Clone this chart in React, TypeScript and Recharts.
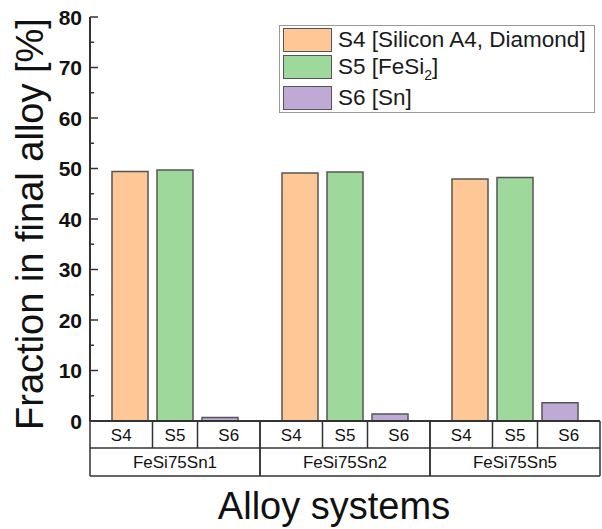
import React from 'react';
import { BarChart, Bar, XAxis, YAxis, Legend } from 'recharts';

const SYSTEMS = ['FeSi75Sn1', 'FeSi75Sn2', 'FeSi75Sn5'];
const PHASES = ['S4', 'S5', 'S6'];
const PHASE_NAMES = ['S4 [Silicon A4, Diamond]', 'S5 [FeSi₂]', 'S6 [Sn]'];
const PHASE_COLORS = ['#fdc896', '#9fd89b', '#bfaad6'];
const S4_VALUES = [49.4, 49.1, 47.9];
const S5_VALUES = [49.7, 49.3, 48.2];
const S6_VALUES = [0.7, 1.4, 3.6];
const Y_TICKS = [0, 5, 10, 15, 20, 25, 30, 35, 40, 45, 50, 55, 60, 65, 70, 75, 80];

const data = SYSTEMS.map((system, i) => ({
  system,
  S4: S4_VALUES[i],
  S5: S5_VALUES[i],
  S6: S6_VALUES[i],
}));

const FONT = '"Liberation Sans", Arial, sans-serif';
const AXIS = '#333';
const PLOT_LEFT = 90;
const PLOT_RIGHT = 600;
const BAND = (PLOT_RIGHT - PLOT_LEFT) / SYSTEMS.length;
const BAR = 36;
const GAP = 9;
const STEP = BAR + GAP;

function LeftTick({ x, y, payload }: any) {
  const major = payload.value % 10 === 0;
  return (
    <g>
      <line x1={x} x2={x + (major ? 8 : 4)} y1={y} y2={y} stroke={AXIS} strokeWidth={1.5} />
      {major && (
        <text x={x - 8} y={y} textAnchor="end" dominantBaseline="central"
          fontFamily={FONT} fontWeight="bold" fontSize={21} fill="#111">
          {payload.value}
        </text>
      )}
    </g>
  );
}

function RightTick({ x, y, payload }: any) {
  const major = payload.value % 10 === 0;
  return <line x1={x} x2={x - (major ? 8 : 4)} y1={y} y2={y} stroke={AXIS} strokeWidth={1.5} />;
}

function TopTick({ x, y }: any) {
  return (
    <g>
      {[1, 2, 3, 4, 5, 6].map((k) => {
        const tx = x - BAND / 2 + (k * BAND) / 6;
        return <line key={k} x1={tx} x2={tx} y1={y} y2={y + (k % 2 ? 7 : 4)} stroke={AXIS} strokeWidth={1.5} />;
      })}
    </g>
  );
}

function TableTick({ x, y, payload }: any) {
  const half = BAND / 2;
  const mid = STEP / 2;
  const sub = (half + mid) / 2;
  const ln = { stroke: AXIS, strokeWidth: 1.5 };
  return (
    <g>
      <line x1={x - half} x2={x + half} y1={y + 27} y2={y + 27} {...ln} />
      <line x1={x - half} x2={x + half} y1={y + 55} y2={y + 55} {...ln} />
      <line x1={x - half} x2={x - half} y1={y} y2={y + 55} {...ln} />
      <line x1={x + half} x2={x + half} y1={y} y2={y + 55} {...ln} />
      <line x1={x - mid} x2={x - mid} y1={y} y2={y + 27} {...ln} />
      <line x1={x + mid} x2={x + mid} y1={y} y2={y + 27} {...ln} />
      {PHASES.map((p, i) => (
        <text key={p} x={x + (i - 1) * sub} y={y + 14.5} textAnchor="middle" dominantBaseline="central"
          fontFamily={FONT} fontSize={17} fill="#111">
          {p}
        </text>
      ))}
      <text x={x} y={y + 41.5} textAnchor="middle" dominantBaseline="central" fontFamily={FONT} fontSize={17} fill="#111">
        {payload.value}
      </text>
    </g>
  );
}

function LegendBox() {
  return (
    <div style={{
      border: '1px solid #999', background: '#fff', width: 316, height: 88,
      boxSizing: 'border-box', padding: '2px 0 0 3px', fontFamily: FONT,
    }}>
      {PHASE_NAMES.map((name, i) => {
        const parts = name.split('₂');
        return (
          <div key={name} style={{ display: 'flex', alignItems: 'center', height: 24, marginBottom: i === 0 ? 3 : 7 }}>
            <div style={{
              width: 49, height: 24, boxSizing: 'border-box', background: PHASE_COLORS[i],
              border: '1.5px solid #555',
            }} />
            <span style={{ marginLeft: 6, fontSize: 22.5, lineHeight: '24px', color: '#1a1a1a', whiteSpace: 'nowrap' }}>
              {parts[0]}
              {parts.length > 1 && <sub style={{ fontSize: 14, lineHeight: 0 }}>2</sub>}
              {parts[1]}
            </span>
          </div>
        );
      })}
    </div>
  );
}

export default function App() {
  return (
    <div style={{ position: 'absolute', left: 0, top: 0, background: '#fff' }}>
      <BarChart width={602} height={529} data={data} barGap={GAP} barSize={BAR}
        margin={{ top: 17, right: 2, left: 0, bottom: 0 }}>
        <XAxis dataKey="system" height={108} tickLine={false} tickSize={0} tickMargin={0} interval={0}
          axisLine={{ stroke: AXIS, strokeWidth: 2 }} tick={TableTick}
          label={() => (
            <text x={334} y={519} textAnchor="middle" fontFamily={FONT} fontSize={38} fill="#111">Alloy systems</text>
          )} />
        <XAxis xAxisId="top" dataKey="system" orientation="top" height={0} tickLine={false} tickSize={0}
          tickMargin={0} interval={0} axisLine={{ stroke: AXIS, strokeWidth: 2 }} tick={TopTick} />
        <YAxis yAxisId="left" width={90} domain={[0, 80]} ticks={Y_TICKS} interval={0} tickLine={false}
          tickSize={0} tickMargin={0} axisLine={{ stroke: AXIS, strokeWidth: 2 }} tick={LeftTick}
          label={() => (
            <text x={43} y={224} transform="rotate(-90 43 224)" textAnchor="middle" fontFamily={FONT}
              fontSize={38} fill="#111">
              Fraction in final alloy [%]
            </text>
          )} />
        <YAxis yAxisId="right" orientation="right" width={0} domain={[0, 80]} ticks={Y_TICKS} interval={0}
          tickLine={false} tickSize={0} tickMargin={0} axisLine={{ stroke: AXIS, strokeWidth: 2 }} tick={RightTick} />
        <Legend content={LegendBox} layout="horizontal" verticalAlign="middle" align="center"
          wrapperStyle={{ left: 279, top: 25, width: 316, height: 88 }} />
        {PHASES.map((p, i) => (
          <Bar key={p} yAxisId="left" dataKey={p} name={PHASE_NAMES[i]} fill={PHASE_COLORS[i]}
            stroke="#555" strokeWidth={1.5} isAnimationActive={false} />
        ))}
      </BarChart>
    </div>
  );
}
